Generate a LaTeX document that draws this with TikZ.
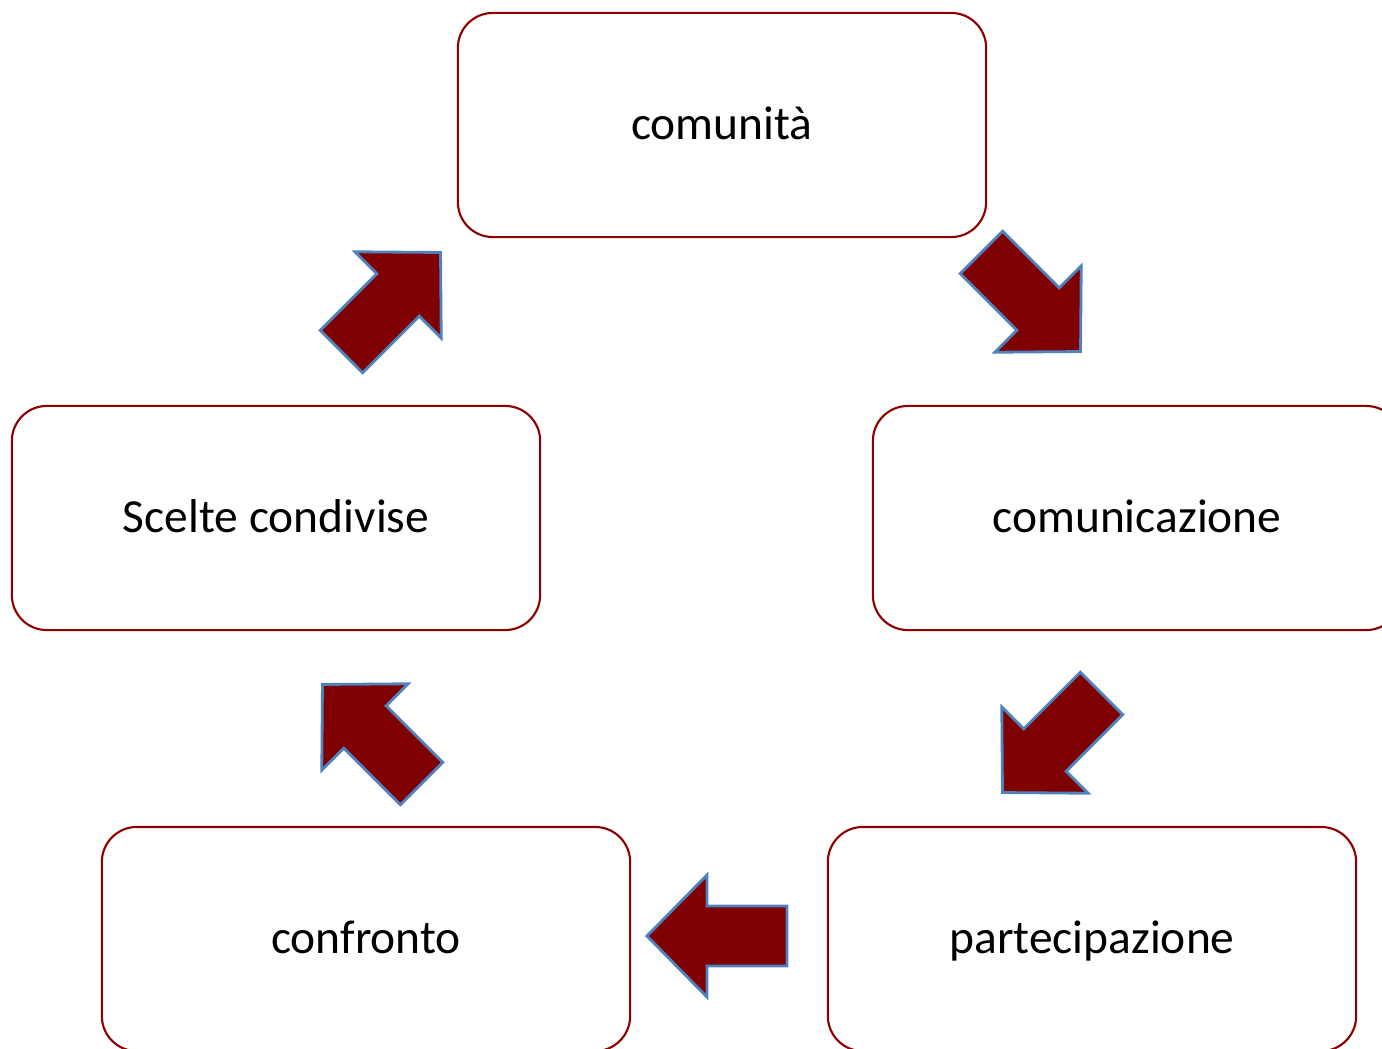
\documentclass[tikz,border=0pt]{standalone}
\usepackage{fontspec}
\setmainfont{Carlito}
\definecolor{boxred}{RGB}{140,0,0}
\definecolor{arrowred}{RGB}{127,0,0}
\definecolor{arrowblue}{RGB}{79,129,189}

\tikzset{
  bigarrow/.pic={
    \path[draw=arrowblue,fill=arrowred,line width=0.8pt,line join=miter]
      (-0.7cm,-0.3cm) -- (0.1cm,-0.3cm) -- (0.1cm,-0.61cm) -- (0.7cm,0cm)
      -- (0.1cm,0.61cm) -- (0.1cm,0.3cm) -- (-0.7cm,0.3cm) -- cycle;
  }
}

\begin{document}
\begin{tikzpicture}[x=0.01cm,y=-0.01cm]
      \tikzstyle{stage}=[draw=boxred,line width=0.6pt,rounded corners=0.35cm,minimum width=5.28cm,minimum height=2.24cm,text height=2ex,text depth=0.25ex,font=\fontsize{13.5}{16}\selectfont];
        \useasboundingbox (0,0) rectangle (1382,1048);

        \path (722,125)  node[stage] (comunita) {comunità};
        \path (1137,518) node[stage] (comunicazione) {comunicazione};
        \path (1092,939) node[stage] (partecipazione) {partecipazione};
        \path (366,939)  node[stage] (confronto) {confronto};
        \path (276,518)  node[stage] (scelte) {Scelte condivise};

        \path (1031,302) pic[rotate=-45] (a1) {bigarrow};
        \path (1052,743) pic[rotate=-135] (a2) {bigarrow};
        \path (717,936)  pic[rotate=180] (a3) {bigarrow};
        \path (372,734)  pic[rotate=135] (a4) {bigarrow};
        \path (391,302)  pic[rotate=45] (a5) {bigarrow};
    \end{tikzpicture}
\end{document}
